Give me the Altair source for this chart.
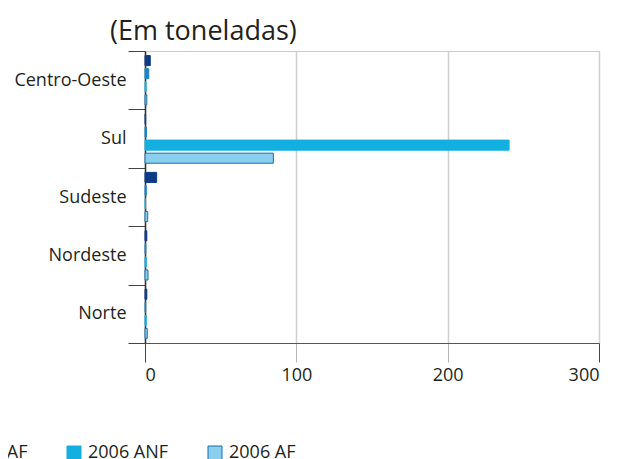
import altair as alt
import pandas as pd

regions = ["Centro-Oeste", "Sul", "Sudeste", "Nordeste", "Norte"]
series = ["1996 ANF", "1996 AF", "2006 ANF", "2006 AF"]
v_1996_anf = [3.5, 0.4, 7.7, 1.2, 1.2]
v_1996_af = [2.5, 1.0, 0.8, 0.5, 0.5]
v_2006_anf = [0.7, 240.6, 0.3, 0.8, 0.8]
v_2006_af = [1.2, 84.8, 1.8, 2.0, 1.5]
x_ticks = [0, 100, 200, 300]

fills = ["#0d3b85", "#1c84c6", "#12afe0", "#8acfee"]
strokes = ["#0d3b85", "#1c84c6", "#12afe0", "#1a6ea8"]

rows = []
for s, vals in zip(series, [v_1996_anf, v_1996_af, v_2006_anf, v_2006_af]):
    for r, v in zip(regions, vals):
        rows.append({"regiao": r, "serie": s, "valor": v})
df = pd.DataFrame(rows)

FONT = "Open Sans"
TXT = "#231f20"

chart = alt.Chart(df).mark_bar(strokeWidth=1).encode(
    y=alt.Y("regiao:N", sort=regions, title=None,
            scale=alt.Scale(paddingInner=0, paddingOuter=0),
            axis=alt.Axis(tickBand="extent", tickSize=17, tickColor="#444",
                          domainColor="#333", domainWidth=1.5,
                          labelFontSize=18, labelColor=TXT, labelPadding=2,
                          labelFont=FONT, grid=False)),
    yOffset=alt.YOffset("serie:N", sort=series,
                        scale=alt.Scale(paddingInner=0.23, paddingOuter=0.35)),
    x=alt.X("valor:Q", title=None,
            scale=alt.Scale(domain=[0, 300], nice=False),
            axis=alt.Axis(values=x_ticks, tickSize=19, labelPadding=4,
                          tickColor={"condition": {"test": "datum.value === 100 || datum.value === 200", "value": "#b5b5b5"}, "value": "#444"},
                          domainColor="#555", domainWidth=1,
                          gridColor="#d0d0d0", gridWidth=1.5,
                          labelFontSize=18, labelColor=TXT, labelFont=FONT)),
    fill=alt.Fill("serie:N", sort=series,
                  scale=alt.Scale(domain=series, range=fills),
                  legend=alt.Legend(title=None, orient="none", direction="horizontal",
                                    legendX=-348, legendY=393,
                                    symbolType="square", symbolSize=196,
                                    symbolStrokeWidth=1,
                                    labelFontSize=18, labelColor=TXT, labelFont=FONT,
                                    labelOffset=5, columnPadding=37, padding=0)),
    stroke=alt.Stroke("serie:N", sort=series,
                      scale=alt.Scale(domain=series, range=strokes)),
).properties(
    width=454,
    height=292,
    title=alt.TitleParams("(Em toneladas)", anchor="start", frame="group",
                          fontSize=27, font=FONT, color=TXT, fontWeight="normal",
                          dx=-35, offset=-4),
    autosize=alt.AutoSizeParams(type="none"),
    padding={"left": 137, "top": 43, "right": 10, "bottom": 116},
).configure_view(stroke="#cccccc", strokeWidth=1)

chart.save("out.html", embed_options={"renderer": "svg", "actions": False})
